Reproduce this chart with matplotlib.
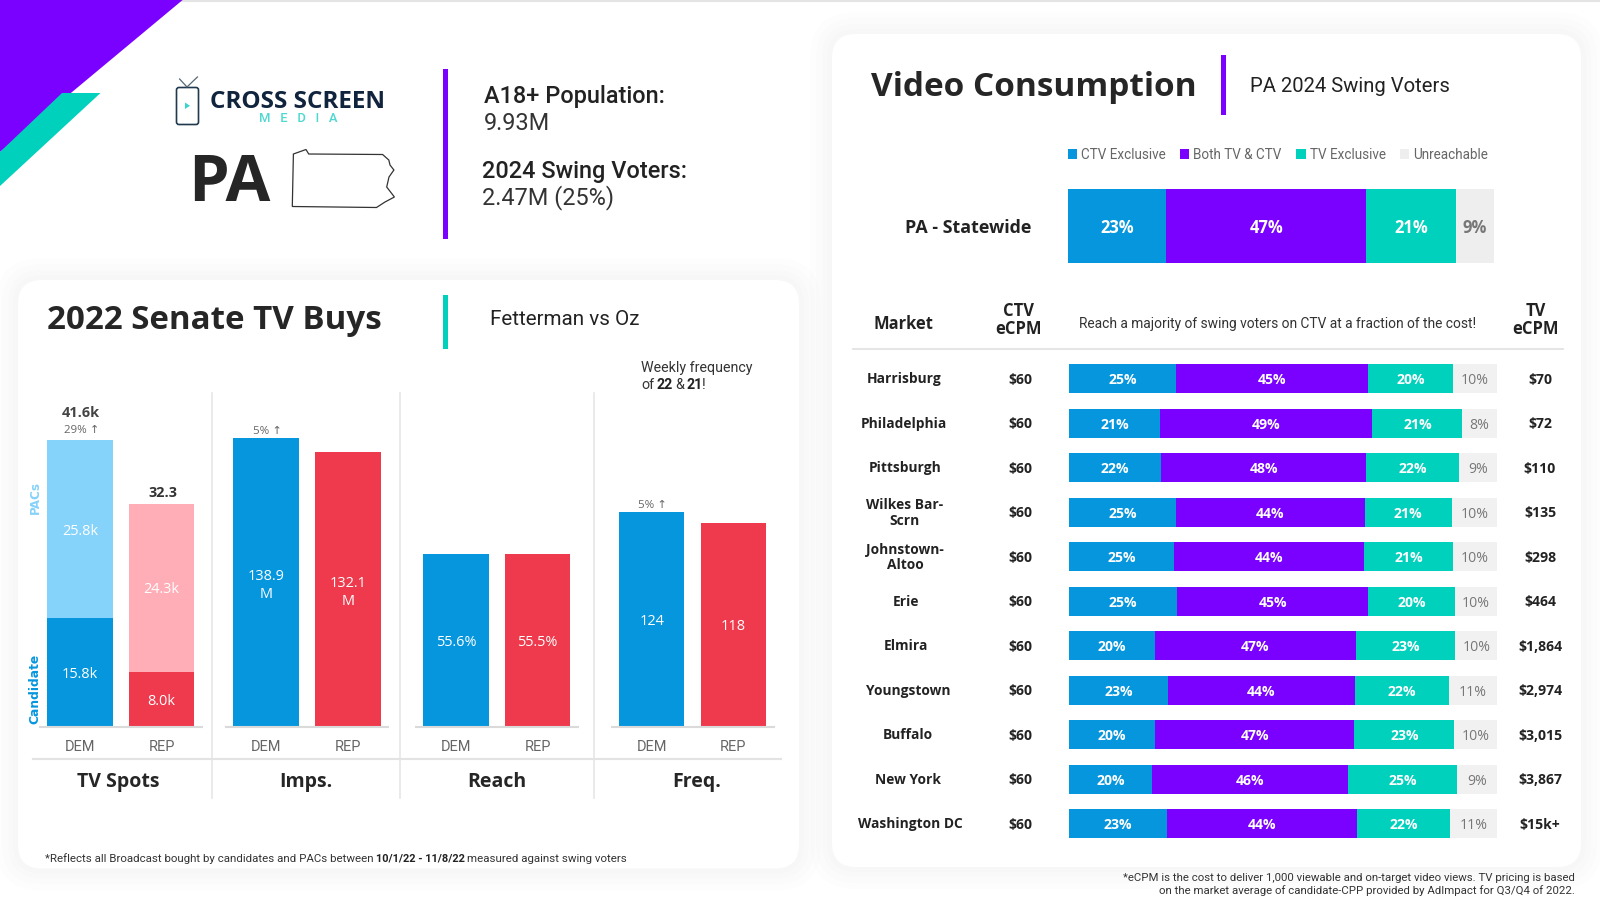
import matplotlib
matplotlib.use("Agg")
import matplotlib.pyplot as plt
from matplotlib.patches import FancyBboxPatch, Polygon, Rectangle

W, H = 1600, 901
BODY = ["Roboto", "DejaVu Sans"]
HEAD = ["Open Sans", "DejaVu Sans"]

BLUE = "#0596DE"; LBLUE = "#85D2FA"; RED = "#EE3A4C"; PINK = "#FFAEB7"
PURPLE = "#7A00FF"; TEAL = "#00D1BC"; GREY = "#EEEEEE"; NAVY = "#10243E"

# ---------- data ----------
PARTIES = ["DEM", "REP"]
SPOTS_CANDIDATE = [15.8, 8.0]
SPOTS_PACS = [25.8, 24.3]
SPOTS_CAND_LABELS = ["15.8k", "8.0k"]
SPOTS_PAC_LABELS = ["25.8k", "24.3k"]
SPOTS_TOTAL_LABELS = ["41.6k", "32.3"]
IMPS = [138.9, 132.1]
IMPS_LABELS = ["138.9\nM", "132.1\nM"]
REACH = [55.6, 55.5]
REACH_LABELS = ["55.6%", "55.5%"]
FREQ = [124, 118]
FREQ_LABELS = ["124", "118"]
GROUP_NAMES = ["TV Spots", "Imps.", "Reach", "Freq."]

SEG_NAMES = ["CTV Exclusive", "Both TV & CTV", "TV Exclusive", "Unreachable"]
STATE_SHARES = [23.1, 46.9, 21.0, 9.0]
STATE_LABELS = ["23%", "47%", "21%", "9%"]

MARKETS = ["Harrisburg", "Philadelphia", "Pittsburgh", "Wilkes Bar-\nScrn", "Johnstown-\nAltoo",
           "Erie", "Elmira", "Youngstown", "Buffalo", "New York", "Washington DC"]
CTV_ECPM = ["$60"] * 11
TV_ECPM = ["$70", "$72", "$110", "$135", "$298", "$464", "$1,864", "$2,974", "$3,015", "$3,867", "$15k+"]
# drawn widths
CTV_SHARE = [25.1, 21.2, 21.6, 24.9, 24.5, 25.2, 20.0, 23.1, 20.2, 19.4, 22.9]
BOTH_SHARE = [44.7, 49.7, 47.8, 44.2, 44.5, 44.7, 47.0, 43.7, 46.5, 45.9, 44.5]
TV_SHARE = [19.9, 21.0, 21.7, 20.3, 20.8, 20.2, 23.3, 22.1, 23.3, 25.3, 21.7]
NONE_SHARE = [10.3, 8.1, 8.8, 10.6, 10.1, 9.9, 9.8, 11.0, 10.0, 9.3, 10.8]
# printed labels
CTV_PCT = [25, 21, 22, 25, 25, 25, 20, 23, 20, 20, 23]
BOTH_PCT = [45, 49, 48, 44, 44, 45, 47, 44, 47, 46, 44]
TV_PCT = [20, 21, 22, 21, 21, 20, 23, 22, 23, 25, 22]
NONE_PCT = [10, 8, 9, 10, 10, 10, 10, 11, 10, 9, 11]

# ---------- canvas ----------
fig = plt.figure(figsize=(W / 100, H / 100), dpi=100, facecolor="white")
bg = fig.add_axes([0, 0, 1, 1], zorder=0)
bg.set_xlim(0, W); bg.set_ylim(H, 0); bg.axis("off")


def axes_px(x0, y0, x1, y1):
    ax = fig.add_axes([x0 / W, 1 - y1 / H, (x1 - x0) / W, (y1 - y0) / H], zorder=2)
    ax.patch.set_alpha(0)
    return ax


def txt(x, y, s, px, family=BODY, weight="normal", color="#222222", ha="left", va="center", **kw):
    return bg.text(x, y + 0.09 * px, s, fontsize=px * 0.72, family=family, weight=weight, color=color, ha=ha, va=va, **kw)


def card(x0, y0, x1, y1):
    for grow, a in [(22, 0.006), (16, 0.006), (10, 0.007), (5, 0.008)]:
        bg.add_patch(FancyBboxPatch((x0 - grow, y0 - grow), x1 - x0 + 2 * grow, y1 - y0 + 2 * grow,
                                    boxstyle=f"round,pad=0,rounding_size={24 + grow}",
                                    fc="black", ec="none", alpha=a, zorder=1))
    bg.add_patch(FancyBboxPatch((x0, y0), x1 - x0, y1 - y0, boxstyle="round,pad=0,rounding_size=24",
                                fc="white", ec="none", zorder=1.5))


bg.plot([0, W], [0.5, 0.5], color="#E4E4E4", lw=1.5, zorder=1)
card(18, 280, 799, 868.5)
card(832, 34, 1581, 867)

# corner shapes
bg.add_patch(Polygon([(0, 0), (182.6, 0), (0, 152)], fc=PURPLE, ec="none", zorder=1))
bg.add_patch(Polygon([(62, 93), (100.5, 93), (0, 186), (0, 152)], fc=TEAL, ec="none", zorder=1.1))

# logo
bg.add_patch(FancyBboxPatch((176.5, 87.5), 22, 37, boxstyle="round,pad=0,rounding_size=2.5",
                            fc="white", ec="#20394F", lw=1.2, zorder=2))
bg.plot([179.6, 187, 197.4], [79, 87, 77], color="#556775", lw=0.9, zorder=2)
bg.add_patch(Polygon([(185, 102.5), (185, 109), (190, 105.8)], fc="#3CD3CB", ec="none", zorder=3))
txt(210.5, 99.5, "CROSS SCREEN", 24.2, family=HEAD, weight="bold", color=NAVY)
txt(298, 117, "M   E   D   I   A", 13, family=BODY, weight="medium", color="#4ED8D0", ha="center")

txt(229.5, 179, "PA", 65, family=HEAD, weight="bold", color="#262626", ha="center")
STATE_OUTLINE = [(292.3, 206.5), (293.4, 154), (306, 149.5), (308.7, 154), (382.6, 154.5), (388.8, 160),
                 (390, 165), (393.9, 170), (389, 177), (386.7, 187), (394.4, 197), (385, 202), (376.5, 207.5)]
bg.add_patch(Polygon(STATE_OUTLINE, closed=True, fc="white", ec="#333333", lw=0.9, zorder=2))

bg.add_patch(Rectangle((443, 69), 5, 170, fc=PURPLE, ec="none", zorder=2))
txt(483.5, 94.5, "A18+ Population:", 23.5, weight="medium")
txt(484, 121, "9.93M", 23.5, color="#333333")
txt(481.5, 169, "2024 Swing Voters:", 23.5, weight="medium")
txt(481.5, 195, "2.47M (25%)", 23.5, color="#333333")

# ---------- left panel ----------
txt(47, 318, "2022 Senate TV Buys", 33.2, family=HEAD, weight="bold", color="#262626")
bg.add_patch(Rectangle((443, 295), 5, 54, fc=TEAL, ec="none", zorder=2))
txt(490, 318, "Fetterman vs Oz", 20.6)
txt(641, 366.5, "Weekly frequency", 14.3, color="#333333")
txt(641, 383.7, "of", 14.3, color="#333333")
txt(656.5, 383.7, "22", 14.3, weight="bold", color="#222222")
txt(675.5, 383.7, "&", 14.3, color="#333333")
txt(686.7, 383.7, "21", 14.3, weight="bold", color="#222222")
txt(701.5, 383.7, "!", 14.3, color="#333333")

for x in (212, 399.5, 594):
    bg.plot([x, x], [393.4, 798], color="#E6E6E6", lw=1.2, zorder=1.8)
bg.plot([33, 780.6], [759, 759], color="#E3E3E3", lw=1.5, zorder=1.8)
for x, name in zip((118.4, 306, 497, 696.4), GROUP_NAMES):
    txt(x, 780, name, 19.5, family=HEAD, weight="bold", color="#262626", ha="center")

BASE = 726.7
TOP = 400


def bar_axes(x0, x1, px_per_unit):
    ax = axes_px(x0, TOP, x1, BASE)
    ax.set_xlim(-0.49, 1.49)
    ax.set_ylim(0, (BASE - TOP) / px_per_unit)
    for s in ("top", "left", "right"):
        ax.spines[s].set_visible(False)
    ax.spines["bottom"].set_color("#DADADA")
    ax.spines["bottom"].set_linewidth(1.5)
    ax.set_yticks([])
    ax.set_xticks([0, 1], PARTIES, family=BODY, fontsize=14.5 * 0.72, color="#666666")
    ax.tick_params(axis="x", length=0, pad=9.5)
    return ax


def in_bar(ax, x, y, s, dy=0):
    ax.annotate(s, (x, y), xytext=(0, dy), textcoords="offset pixels", ha="center", va="center_baseline",
                color="white", family=HEAD, fontsize=14.5 * 0.72, linespacing=1.25)


# TV spots
ax = bar_axes(40, 201.5, 6.886)
ax.bar([0, 1], SPOTS_CANDIDATE, width=0.8, color=[BLUE, RED])
ax.bar([0, 1], SPOTS_PACS, bottom=SPOTS_CANDIDATE, width=0.8, color=[LBLUE, PINK])
for i in range(2):
    in_bar(ax, i, SPOTS_CANDIDATE[i] / 2, SPOTS_CAND_LABELS[i])
    in_bar(ax, i, SPOTS_CANDIDATE[i] + SPOTS_PACS[i] / 2, SPOTS_PAC_LABELS[i])
    total = SPOTS_CANDIDATE[i] + SPOTS_PACS[i]
    ax.annotate(SPOTS_TOTAL_LABELS[i], (i, total), xytext=(1, 28.5 if i == 0 else 12.7), textcoords="offset pixels",
                ha="center", va="center_baseline", family=HEAD, weight="bold", fontsize=14.5 * 0.72,
                color="#444444" if i == 0 else "#333333")
ax.annotate("29% ↑", (0, SPOTS_CANDIDATE[0] + SPOTS_PACS[0]), xytext=(1.5, 11.5), textcoords="offset pixels",
            ha="center", va="center_baseline", family=HEAD, fontsize=11.5 * 0.72, color="#666666")
txt(35, 496.5, "PACs", 12, family="DejaVu Sans", weight="bold", color=LBLUE, ha="center", rotation=90)
txt(34.5, 687.5, "Candidate", 12.3, family="DejaVu Sans", weight="bold", color=BLUE, ha="center", rotation=90)

# Impressions, reach, frequency
for (x0, x1, scale, vals, labs) in [(226, 388, 2.078, IMPS, IMPS_LABELS),
                                    (416, 577.5, 3.115, REACH, REACH_LABELS),
                                    (611.5, 773.5, 1.73, FREQ, FREQ_LABELS)]:
    ax = bar_axes(x0, x1, scale)
    ax.bar([0, 1], vals, width=0.8, color=[BLUE, RED])
    for i in range(2):
        in_bar(ax, i, vals[i] / 2, labs[i])
    if vals is not REACH:
        ax.annotate("5% ↑", (0, vals[0]), xytext=(1, 8), textcoords="offset pixels",
                    ha="center", va="center_baseline", family=HEAD, fontsize=11.5 * 0.72, color="#666666")

txt(45, 857.6, "*Reflects all Broadcast bought by candidates and PACs between", 11.5, color="#333333")
txt(376, 857.6, "10/1/22 - 11/8/22", 11, weight="bold", color="#222222")
txt(467, 857.6, "measured against swing voters", 11.5, color="#333333")

# ---------- right panel ----------
txt(871, 84, "Video Consumption", 33.4, family=HEAD, weight="bold", color="#262626")
bg.add_patch(Rectangle((1221, 55), 5, 60, fc=PURPLE, ec="none", zorder=2))
txt(1250, 85, "PA 2024 Swing Voters", 20.3)

SEG_COLORS = [BLUE, PURPLE, TEAL, GREY]
txt(967.8, 226.7, "PA - Statewide", 17.9, family=HEAD, weight="bold", ha="center")

ax = axes_px(1067.7, 189, 1494, 263)
ax.axis("off")
ax.set_xlim(0, 100); ax.set_ylim(-0.5, 0.5)
left = 0
for i, share in enumerate(STATE_SHARES):
    ax.barh([0], [share], left=left, height=1.0, color=SEG_COLORS[i], label=SEG_NAMES[i])
    ax.text(left + share / 2, 0, STATE_LABELS[i], ha="center", va="center_baseline", family=HEAD, weight="bold",
            fontsize=16.5 * 0.72, color="white" if i < 3 else "#777777")
    left += share
ax.legend(loc="lower left", bbox_to_anchor=(0, 1.37), ncol=4, frameon=False, borderaxespad=0, borderpad=0,
          handlelength=0.68, handleheight=0.68, handletextpad=0.3, columnspacing=1.08,
          prop={"family": BODY, "size": 13.5 * 0.72}, labelcolor="#666666")

txt(903.6, 323, "Market", 16.5, family=HEAD, weight="bold", ha="center")
txt(1018, 319, "CTV\neCPM", 16.5, family=HEAD, weight="bold", ha="center", linespacing=1.0)
txt(1535.4, 319, "TV\neCPM", 16.5, family=HEAD, weight="bold", ha="center", linespacing=1.0)
txt(1277.7, 323, "Reach a majority of swing voters on CTV at a fraction of the cost!", 13.7, ha="center", color="#333333")
bg.plot([853, 1563], [348.7, 348.7], color="#E0E0E0", lw=1.2, zorder=1.8)

ax = axes_px(1069, 356.45, 1497, 846)
ax.axis("off")
ax.set_xlim(0, 100); ax.set_ylim(10.5, -0.5)
rows = range(len(MARKETS))
lefts = [0.0] * len(MARKETS)
for c, (shares, pcts) in enumerate([(CTV_SHARE, CTV_PCT), (BOTH_SHARE, BOTH_PCT), (TV_SHARE, TV_PCT), (NONE_SHARE, NONE_PCT)]):
    ax.barh(list(rows), shares, left=lefts, height=0.656, color=SEG_COLORS[c] if c < 3 else "#F1F1F1")
    for r in rows:
        ax.text(lefts[r] + shares[r] / 2, r, f"{pcts[r]}%", ha="center", va="center_baseline", family=HEAD,
                weight="bold" if c < 3 else "normal", fontsize=14 * 0.72,
                color="white" if c < 3 else "#777777")
        lefts[r] += shares[r]
NAME_X = [904, 904, 905, 905, 905, 906, 906, 908, 908, 908, 910]
for r in rows:
    y = 378.7 + 44.5 * r
    txt(NAME_X[r], y - 0.5, MARKETS[r], 13.7, family=HEAD, weight="bold", color="#222222", ha="center", linespacing=1.15)
    txt(1020, y, CTV_ECPM[r], 14, family=HEAD, weight="bold", color="#222222", ha="center")
    txt(1540, y, TV_ECPM[r], 14, family=HEAD, weight="bold", color="#222222", ha="center")

txt(1574.7, 876.5, "*eCPM is the cost to deliver 1,000 viewable and on-target video views. TV pricing is based", 11.4, ha="right", color="#333333")
txt(1574.7, 890, "on the market average of candidate-CPP provided by AdImpact for Q3/Q4 of 2022.", 11.4, ha="right", color="#333333")

fig.savefig("out.png", dpi=100, facecolor="white")
